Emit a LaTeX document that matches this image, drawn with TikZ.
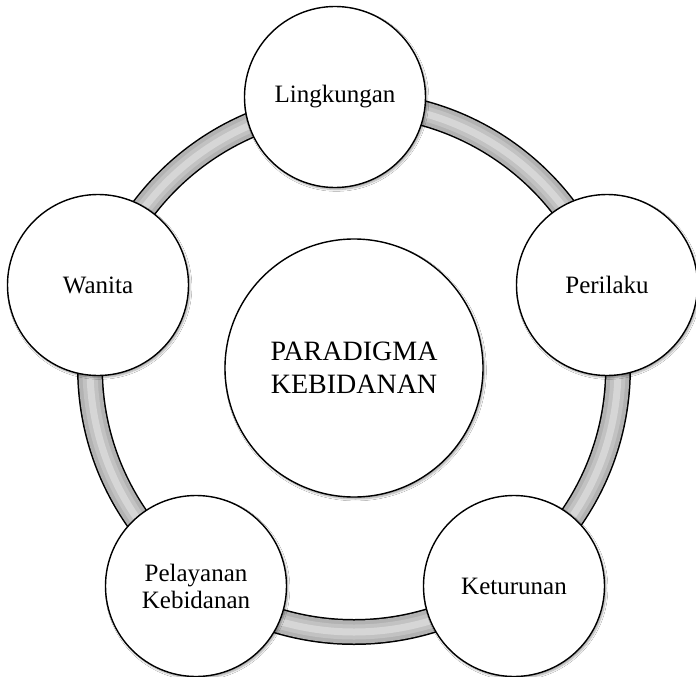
\documentclass[tikz,border=0pt]{standalone}
\usepackage{fontspec}
\setmainfont{Liberation Serif}
\usetikzlibrary{shadows.blur}
\definecolor{ringgray}{gray}{0.70}
\definecolor{ringmid}{gray}{0.76}
\definecolor{ringlight}{gray}{0.84}
\tikzset{
  ball/.style={circle, draw=black, line width=1.4pt, fill=white, inner sep=0pt,
    minimum size=181pt, align=center, font=\fontsize{25}{27}\selectfont,
    blur shadow={shadow xshift=1.5pt, shadow yshift=-2pt, shadow blur steps=6, shadow opacity=35}},
  hub/.style={ball, minimum size=258pt, font=\fontsize{28}{33}\selectfont},
  ringedge/.style={line width=26pt, draw=black},
  ringbody/.style={line width=23pt, draw=ringgray},
  ringmidband/.style={line width=15pt, draw=ringmid},
  ringshine/.style={line width=7pt, draw=ringlight}
}
\begin{document}
\begin{tikzpicture}[x=1pt,y=-1pt]
\useasboundingbox (0,0) rectangle (696,677);
\fill[white] (0,0) rectangle (696,677);
\coordinate (ringc) at (354,368);
\draw[ringedge] (ringc) circle (264);
\draw[ringbody] (ringc) circle (264);
\draw[ringmidband] (ringc) circle (264);
\draw[ringshine] (ringc) circle (264);
\node[hub] (hub) at (354,368) {PARADIGMA\\KEBIDANAN};
\node[ball] (ling) at (335,97) {Lingkungan};
\node[ball] (peri) at (607,285) {Perilaku};
\node[ball] (ketu) at (514,586) {Keturunan};
\node[ball] (pela) at (196,586) {Pelayanan\\Kebidanan};
\node[ball] (wani) at (98,285) {Wanita};
\end{tikzpicture}
\end{document}
